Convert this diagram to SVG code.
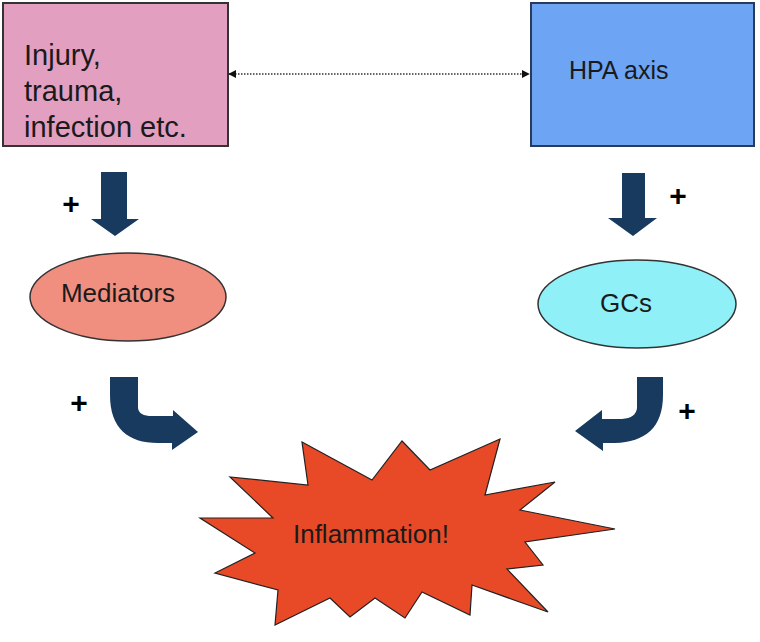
<svg xmlns="http://www.w3.org/2000/svg" width="760" height="642" viewBox="0 0 760 642">
<style>
text{font-family:"Liberation Sans",Arial,sans-serif;fill:#1a1a1a}
.arrow{fill:#173a5e}
.plus{font-weight:bold;font-size:30px;fill:#000;text-anchor:middle}
.lbl{font-size:26px;text-anchor:middle}
</style>
<defs>
<marker id="ah" viewBox="0 0 10 10" refX="9" refY="5" markerWidth="8" markerHeight="8" orient="auto-start-reverse" markerUnits="userSpaceOnUse">
<path d="M0,0 L10,5 L0,10 Z" fill="#111"/>
</marker>
</defs>
<rect width="760" height="642" fill="#fff"/>
<g id="injury">
<rect x="3" y="3" width="225" height="143" fill="#e29fc0" stroke="#333" stroke-width="2"/>
<text x="24" y="65" font-size="29">Injury,</text>
<text x="24" y="101" font-size="29">trauma,</text>
<text x="24" y="137" font-size="29">infection etc.</text>
</g>
<g id="hpa">
<rect x="531" y="3" width="223" height="143" fill="#6ea4f4" stroke="#2a3a5a" stroke-width="2"/>
<text x="569" y="79" font-size="25">HPA axis</text>
</g>
<g id="mediators">
<ellipse cx="128" cy="297" rx="98" ry="44" fill="#f08f80" stroke="#333" stroke-width="1.5"/>
<text class="lbl" x="118" y="302">Mediators</text>
</g>
<g id="gcs">
<ellipse cx="637" cy="304" rx="99" ry="44" fill="#90f0f8" stroke="#333" stroke-width="1.5"/>
<text class="lbl" x="626" y="312" font-size="25">GCs</text>
</g>
<g id="inflammation">
<polygon points="302,442 372,480 402,441 430,470 500,439 485,495 555,482 520,510 615,529 525,542 543,565 507,569 548,612 472,585 470,615 422,592 405,618 375,598 350,617 330,598 275,625 278,590 215,573 255,553 200,518 273,518 230,477 308,485" fill="#e84a27" stroke="#222" stroke-width="1.2"/>
<text class="lbl" x="371" y="543">Inflammation!</text>
</g>
<g id="connectors">
<line x1="229" y1="74" x2="529" y2="74" stroke="#333" stroke-width="1.5" stroke-dasharray="1.5,1.5" marker-start="url(#ah)" marker-end="url(#ah)"/>
<path class="arrow" d="M101,172 L127,172 L127,219 L139,219 L115,236 L91,219 L101,219 Z"/>
<path class="arrow" d="M622,173 L645,173 L645,218 L657,218 L633,236 L608,218 L622,218 Z"/>
<path class="arrow" d="M110,377 L138,377 L138,408 Q139,416 152,416 L173,416 L173,410 L198,432 L172,450 L172,443 L158,443 C128,443 110,428 110,395 Z"/>
<path class="arrow" d="M663,377 L637,377 L637,408 Q636,418 622,419 L602,419 L602,410 L575,431 L603,451 L603,443 L615,443 C645,442 663,428 663,395 Z"/>
<text class="plus" x="71" y="214">+</text>
<text class="plus" x="678" y="206">+</text>
<text class="plus" x="79" y="413">+</text>
<text class="plus" x="687" y="421">+</text>
</g>
</svg>
